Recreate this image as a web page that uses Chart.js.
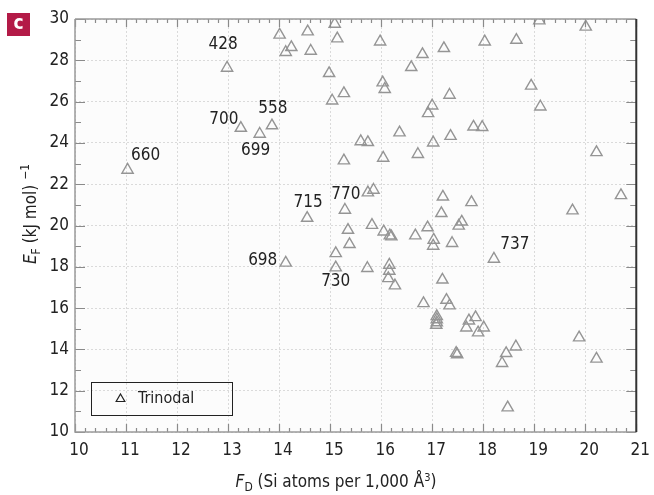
<!DOCTYPE html>
<html>
<head>
<meta charset="utf-8">
<script src="https://cdn.jsdelivr.net/npm/chart.js@4.4.0/dist/chart.umd.min.js"></script>
<style>
  body { margin: 0; background: #fff; }
  #wrap { width: 654px; height: 495px; }
</style>
</head>
<body>
<div id="wrap"><canvas id="fdChart" width="654" height="495"></canvas></div>
<script>
// framework density F_D vs energy E_F, trinodal nets
// first ten points carry the labels in labelNames
var fdValues = [
  11.03, 12.98, 13.25, 13.62, 13.86, 14.55, 14.13, 15.29, 15.11, 18.21,
  14.01, 14.56, 15.09, 15.14, 15.98, 14.13, 14.24, 14.62, 14.98, 16.81,
  17.23, 16.59, 16.03, 16.07, 15.27, 15.04, 17.34, 17.00, 16.92, 16.36,
  17.36, 17.02, 15.60, 15.74, 18.03, 18.65, 20.01, 19.10, 18.94, 19.12,
  17.81, 17.98, 15.27, 16.04, 16.72, 20.22, 15.74, 15.85, 20.70, 17.21,
  17.18, 17.77, 19.75, 15.35, 15.82, 16.05, 16.17, 16.20, 16.67, 16.91,
  17.03, 17.02, 17.39, 17.58, 17.52, 15.38, 15.11, 15.73, 16.16, 16.16,
  16.14, 16.27, 17.20, 16.83, 17.28, 17.34, 17.09, 17.09, 17.09, 17.08,
  17.72, 17.85, 17.67, 17.90, 18.01, 19.88, 18.64, 17.49, 17.47, 18.45,
  18.37, 20.22, 18.48
];
var efValues = [
  22.69, 27.63, 24.72, 24.43, 24.84, 20.36, 18.19, 20.75, 17.96, 18.38,
  29.23, 29.39, 29.76, 29.05, 28.90, 28.39, 28.63, 28.45, 27.37, 28.29,
  28.58, 27.66, 26.92, 26.60, 26.40, 26.04, 26.32, 25.80, 25.43, 24.50,
  24.33, 24.01, 24.07, 24.03, 28.90, 28.98, 29.62, 29.92, 26.76, 25.75,
  24.78, 24.76, 23.14, 23.27, 23.45, 23.54, 21.59, 21.72, 21.46, 21.39,
  20.59, 21.12, 20.72, 19.78, 20.02, 19.70, 19.51, 19.46, 19.51, 19.90,
  19.30, 19.01, 19.14, 20.18, 19.98, 19.09, 18.65, 17.93, 18.09, 17.80,
  17.44, 17.09, 17.37, 16.23, 16.39, 16.12, 15.60, 15.45, 15.30, 15.18,
  15.39, 15.55, 15.05, 14.81, 15.05, 14.57, 14.13, 13.75, 13.82, 13.81,
  13.33, 13.54, 11.18
];
var labelNames = ['660', '428', '700', '699', '558', '715', '698', '770', '730', '737'];
var xTicks = [10, 11, 12, 13, 14, 15, 16, 17, 18, 19, 20, 21];
var yTicks = [10, 12, 14, 16, 18, 20, 22, 24, 26, 28, 30];
var seriesName = 'Trinodal';

// pixel offsets of each label from its point
var labelOffsets = [[18, -14], [-4, -23], [-17, -8], [-4, 17], [1, -17], [1, -15], [-23, -2], [1, -15], [0, 14], [21, -14]];

var FONT = "'Liberation Sans Narrow', 'DejaVu Sans Condensed', 'Liberation Sans', sans-serif";
var TXT = '#222';

var points = [];
for (var i = 0; i < fdValues.length; i++) {
  points.push({x: fdValues[i], y: efValues[i]});
}

function drawTri(ctx, x, y, r, color, w) {
  ctx.beginPath();
  ctx.moveTo(x, y - r);
  ctx.lineTo(x + r * 0.866, y + r * 0.5);
  ctx.lineTo(x - r * 0.866, y + r * 0.5);
  ctx.closePath();
  ctx.strokeStyle = color;
  ctx.lineWidth = w;
  ctx.stroke();
}

// draws a list of [text, size, italic, shift] runs centred on 0
function drawRuns(ctx, runs) {
  var total = 0;
  runs.forEach(function (r) {
    ctx.font = (r[2] ? 'italic ' : '') + r[1] + 'px ' + FONT;
    r.w = ctx.measureText(r[0]).width;
    total += r.w;
  });
  var x = -total / 2;
  runs.forEach(function (r) {
    ctx.font = (r[2] ? 'italic ' : '') + r[1] + 'px ' + FONT;
    ctx.fillText(r[0], x, r[3]);
    x += r.w;
  });
}

var bgPlugin = {
  id: 'bg',
  beforeDraw: function (chart) {
    var ctx = chart.ctx, a = chart.chartArea;
    ctx.save();
    ctx.fillStyle = '#fcfcfc';
    ctx.fillRect(a.left, a.top, a.right - a.left, a.bottom - a.top);
    ctx.restore();
  }
};

var decorPlugin = {
  id: 'decor',
  afterDraw: function (chart) {
    var ctx = chart.ctx, a = chart.chartArea;
    var xs = chart.scales.x, ys = chart.scales.y;
    ctx.save();

    // minor and major ticks, pointing in
    ctx.strokeStyle = '#8a8a8a';
    ctx.lineWidth = 1.2;
    for (var k = 0; k <= 55; k++) {
      var v = xTicks[0] + k * 0.2;
      var px = Math.round(xs.getPixelForValue(v)) + 0.5;
      var len = (k % 5 === 0) ? 8 : 4;
      ctx.beginPath();
      ctx.moveTo(px, a.bottom); ctx.lineTo(px, a.bottom - len);
      ctx.moveTo(px, a.top); ctx.lineTo(px, a.top + len);
      ctx.stroke();
    }
    for (var m = yTicks[0]; m <= yTicks[yTicks.length - 1]; m++) {
      var py = Math.round(ys.getPixelForValue(m)) + 0.5;
      var ln = (m % 2 === 0) ? 10 : 6;
      ctx.beginPath();
      ctx.moveTo(a.left, py); ctx.lineTo(a.left + ln, py);
      ctx.moveTo(a.right, py); ctx.lineTo(a.right - ln, py);
      ctx.stroke();
    }

    // frame
    ctx.lineWidth = 1.5;
    ctx.strokeStyle = '#9a9a9a';
    ctx.beginPath();
    ctx.moveTo(a.left, a.top); ctx.lineTo(a.right, a.top);
    ctx.moveTo(a.left, a.top); ctx.lineTo(a.left, a.bottom); ctx.lineTo(a.right, a.bottom);
    ctx.stroke();
    ctx.lineWidth = 2;
    ctx.strokeStyle = '#333';
    ctx.beginPath();
    ctx.moveTo(a.right, a.top); ctx.lineTo(a.right, a.bottom);
    ctx.stroke();

    // point labels
    ctx.fillStyle = TXT;
    ctx.font = '17px ' + FONT;
    ctx.textAlign = 'center';
    ctx.textBaseline = 'middle';
    labelNames.forEach(function (name, j) {
      var lx = xs.getPixelForValue(fdValues[j]) + labelOffsets[j][0];
      var ly = ys.getPixelForValue(efValues[j]) + labelOffsets[j][1];
      ctx.fillText(name, lx, ly);
    });

    // legend box
    ctx.lineWidth = 1;
    ctx.strokeStyle = '#222';
    ctx.strokeRect(91.5, 382.5, 141, 33);
    drawTri(ctx, 120.5, 399, 5, '#222', 1.2);
    ctx.textAlign = 'left';
    ctx.font = '16px ' + FONT;
    ctx.fillText(seriesName, 138, 398.5);

    // panel badge
    ctx.fillStyle = '#b31a47';
    ctx.fillRect(7, 13, 23, 23);
    ctx.fillStyle = '#fff';
    ctx.font = 'bold 19px ' + FONT;
    ctx.textAlign = 'center';
    ctx.fillText('c', 18.5, 24);

    // axis titles with sub/superscripts
    ctx.fillStyle = TXT;
    ctx.textAlign = 'left';
    ctx.textBaseline = 'alphabetic';
    ctx.save();
    ctx.translate(36, 214);
    ctx.rotate(-Math.PI / 2);
    drawRuns(ctx, [['E', 17, true, 0], ['F', 12, false, 4], [' (kJ mol) ', 17, false, 0], ['\u22121', 12, false, -7]]);
    ctx.restore();
    ctx.save();
    ctx.translate(336, 487);
    drawRuns(ctx, [['F', 17, true, 0], ['D', 12, false, 4], [' (Si atoms per 1,000 \u00c5', 17, false, 0], ['3', 11, false, -6], [')', 17, false, 0]]);
    ctx.restore();

    ctx.restore();
  }
};

var fdChart = new Chart(document.getElementById('fdChart'), {
  type: 'scatter',
  data: {
    datasets: [{
      label: seriesName,
      data: points,
      pointStyle: 'triangle',
      radius: 6.5,
      borderColor: '#959595',
      borderWidth: 1.4,
      backgroundColor: 'rgba(0,0,0,0)'
    }]
  },
  options: {
    responsive: false,
    animation: false,
    layout: {padding: {top: 19, right: 9, left: 0, bottom: 0}},
    plugins: {legend: {display: false}, tooltip: {enabled: false}},
    scales: {
      x: {
        type: 'linear',
        min: xTicks[0],
        max: xTicks[xTicks.length - 1],
        afterFit: function (s) { s.height = 63; },
        afterBuildTicks: function (s) { s.ticks = xTicks.map(function (v) { return {value: v}; }); },
        grid: {color: '#dadada', drawTicks: false, lineWidth: 1},
        border: {display: false, dash: [2, 2]},
        ticks: {color: TXT, padding: 8, labelOffset: 4, font: {family: FONT, size: 17}}
      },
      y: {
        type: 'linear',
        min: yTicks[0],
        max: yTicks[yTicks.length - 1],
        afterFit: function (s) { s.width = 75; },
        afterBuildTicks: function (s) { s.ticks = yTicks.map(function (v) { return {value: v}; }); },
        grid: {color: '#dadada', drawTicks: false, lineWidth: 1},
        border: {display: false, dash: [2, 2]},
        ticks: {color: TXT, padding: 6, font: {family: FONT, size: 17}}
      }
    }
  },
  plugins: [bgPlugin, decorPlugin]
});
</script>
</body>
</html>
